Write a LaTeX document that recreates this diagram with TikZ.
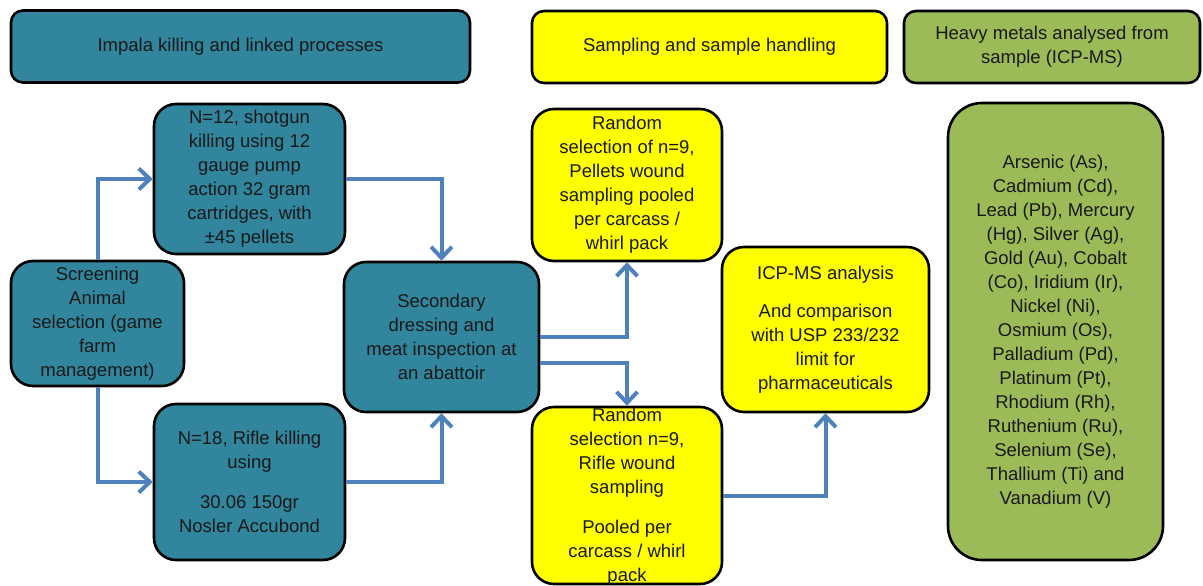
\documentclass[tikz,border=0pt]{standalone}
\usepackage{fontspec}
\setmainfont{Liberation Sans}
\usetikzlibrary{arrows.meta}
\definecolor{tealc}{HTML}{31859C}
\definecolor{yellowc}{HTML}{FFFF00}
\definecolor{greenc}{HTML}{9BBB59}
\definecolor{bluec}{HTML}{4F81BD}
\begin{document}
\begin{tikzpicture}[x=1pt,y=-1pt,
  box/.style={draw=black, line width=2.6pt, rounded corners=#1, align=center,
    inner sep=0pt, font=\fontsize{18.5}{24}\selectfont, text=black!90},
  box/.default=22pt,
  txt/.style={align=center, inner sep=0pt, font=\fontsize{18.5}{24}\selectfont, text=black!90},
  conn/.style={draw=bluec, line width=4pt, -{Straight Barb[length=11pt,width=21pt]}}]
\useasboundingbox (0,0) rectangle (1203,586);
% headers
\node[box=12pt, fill=tealc, minimum width=459pt, minimum height=72pt] (h1) at (240.5,46.5) {Impala killing and linked processes};
\node[box=12pt, fill=yellowc, minimum width=355pt, minimum height=72pt] (h2) at (709.5,47) {Sampling and sample handling};
\node[box=12pt, fill=greenc, minimum width=296pt, minimum height=72pt] (h3) at (1052,47) {Heavy metals analysed from\\sample (ICP-MS)};
% teal boxes
\node[box, fill=tealc, minimum width=173pt, minimum height=125pt] (scr) at (97.5,323.5) {Screening\\Animal\\selection (game\\farm\\management)};
\node[box, fill=tealc, minimum width=191pt, minimum height=150pt] (shot) at (249.5,179) {N=12, shotgun\\killing using 12\\gauge pump\\action 32 gram\\cartridges, with\\±45 pellets};
\node[box, fill=tealc, minimum width=191pt, minimum height=156pt] (rifle) at (249.5,482) {N=18, Rifle killing\\using\\[16pt]30.06 150gr\\Nosler Accubond};
\node[box, fill=tealc, minimum width=195pt, minimum height=150pt] (sec) at (441.5,337) {Secondary\\dressing and\\meat inspection at\\an abattoir};
% yellow boxes
\node[box, fill=yellowc, minimum width=190pt, minimum height=152pt] (pel) at (627,185) {Random\\selection of n=9,\\Pellets wound\\sampling pooled\\per carcass /\\whirl pack};
\node[box, fill=yellowc, minimum width=190pt, minimum height=177pt] (rs) at (627,495.5) {};
\node[txt] (rstext) at (627,497) {Random\\selection n=9,\\Rifle wound\\sampling\\[16pt]Pooled per\\carcass / whirl\\pack};
\node[box, fill=yellowc, minimum width=207pt, minimum height=165pt] (icp) at (825.5,329.5) {ICP-MS analysis\\[14pt]And comparison\\with USP 233/232\\limit for\\pharmaceuticals};
% green box
\node[box=34pt, fill=greenc, minimum width=215pt, minimum height=457pt] (met) at (1055.5,331.5) {Arsenic (As),\\Cadmium (Cd),\\Lead (Pb), Mercury\\(Hg), Silver (Ag),\\Gold (Au), Cobalt\\(Co), Iridium (Ir),\\Nickel (Ni),\\Osmium (Os),\\Palladium (Pd),\\Platinum (Pt),\\Rhodium (Rh),\\Ruthenium (Ru),\\Selenium (Se),\\Thallium (Ti) and\\Vanadium (V)};
% connectors
\draw[conn] (scr.north) |- (shot.west);
\draw[conn] (scr.south) |- (rifle.west);
\draw[conn] (shot.east) -| (sec.north);
\draw[conn] (rifle.east) -| (sec.south);
\draw[conn] (sec.east) -| (pel.south);
\draw[conn] ([yshift=-26pt]sec.east) -| (rs.north);
\draw[conn] (rs.east) -| (icp.south);
\end{tikzpicture}
\end{document}
